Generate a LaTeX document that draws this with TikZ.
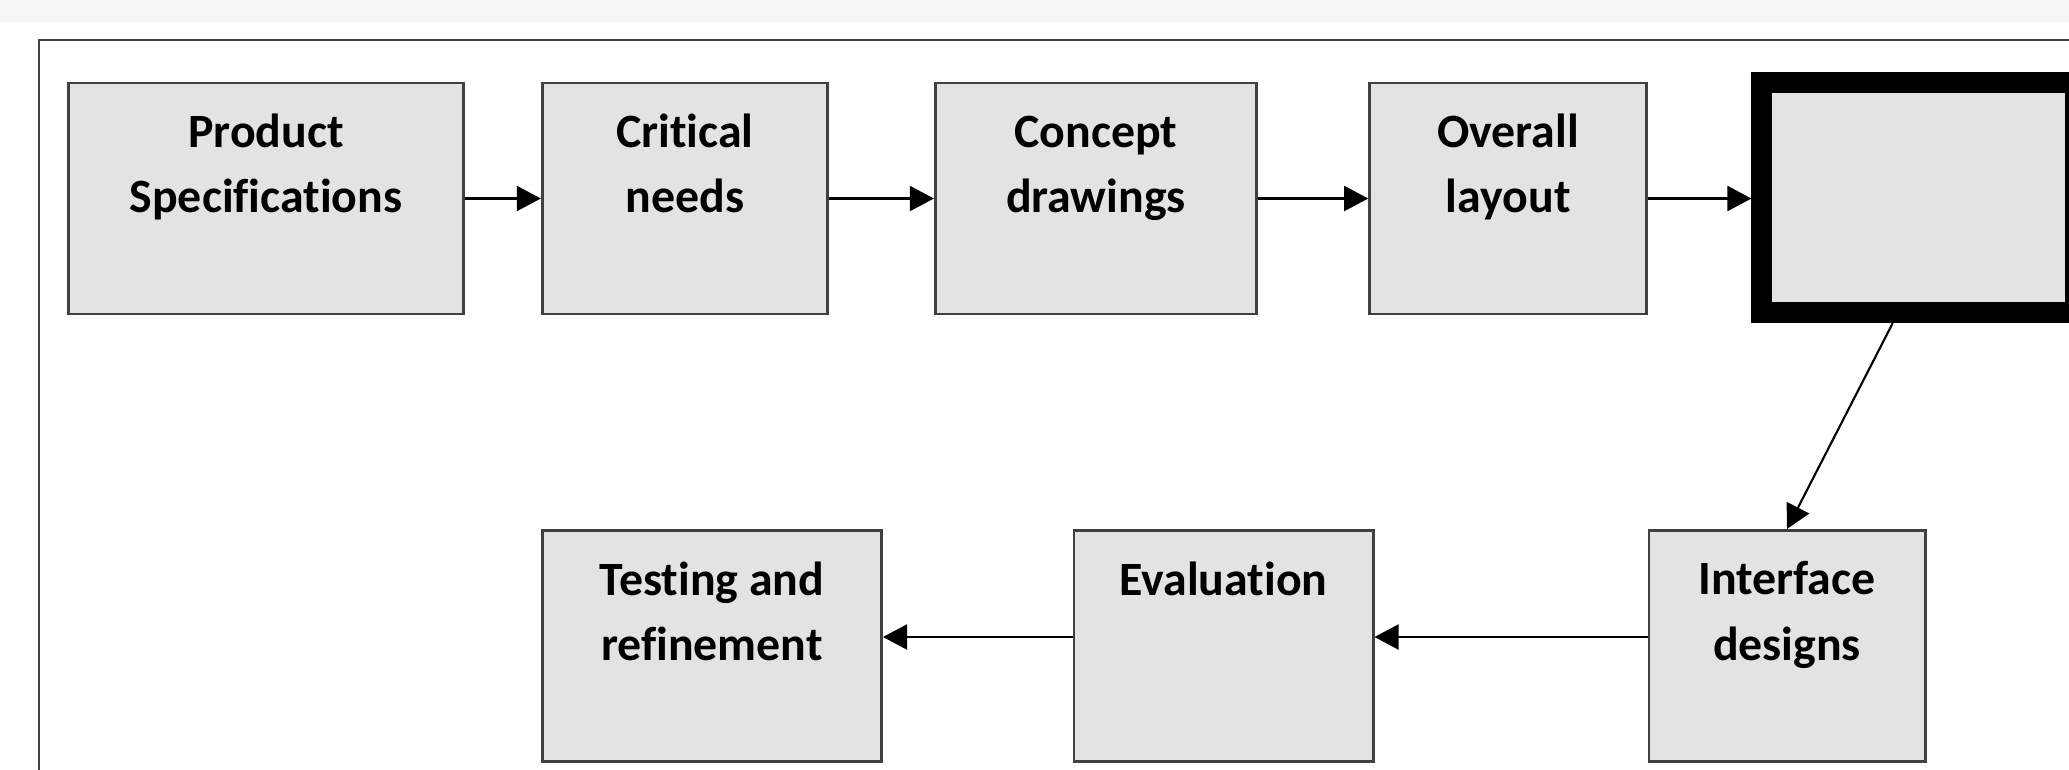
\documentclass[tikz,border=0pt]{standalone}
\usepackage{fontspec}
\setmainfont[Ligatures={NoCommon,NoRequired}]{Carlito}
\usetikzlibrary{arrows.meta}
\definecolor{boxfill}{HTML}{E3E3E3}
\definecolor{boxline}{HTML}{404040}
\definecolor{bandgray}{HTML}{F6F6F6}
\tikzset{
  stage/.style={draw=boxline, line width=0.8pt, fill=boxfill, minimum height=2.31cm, inner sep=0pt},
  stagetext/.style={anchor=north, align=center, inner sep=0pt, font=\fontsize{13.6pt}{18.5pt}\selectfont\bfseries},
  flow/.style={-{Triangle[length=0.24cm,width=0.25cm]}, line width=0.6pt}
}
\begin{document}
\begin{tikzpicture}[x=0.01cm, y=-0.01cm]
    \useasboundingbox (0,0) rectangle (2069,769);
    \clip (0,0) rectangle (2069,769);
    \fill[bandgray] (0,0) rectangle (2069,22);
    \draw[line width=0.6pt, boxline] (39,40) rectangle (2200,900);

    \node[stage, minimum width=3.94cm] (ps) at (266,198.5) {};
    \node[stage, minimum width=2.85cm] (cn) at (684.8,198.5) {};
    \node[stage, minimum width=3.21cm] (cd) at (1095.9,198.5) {};
    \node[stage, minimum width=2.77cm] (ol) at (1508.2,198.5) {};
    \node[stage, draw=black, line width=0.21cm, minimum width=3.135cm, minimum height=2.30cm] (blank) at (1918.75,197.5) {};
    \node[stage, minimum width=3.39cm] (tr) at (712,646) {};
    \node[stage, minimum width=2.99cm] (ev) at (1223.5,646) {};
    \node[stage, minimum width=2.76cm] (id) at (1787,646) {};

    \node[stagetext] (pst) at ([yshift=-0.32cm]ps.north) {Product\\Specifications};
    \node[stagetext] (cnt) at ([yshift=-0.32cm]cn.north) {Critical\\needs};
    \node[stagetext] (cdt) at ([yshift=-0.34cm]cd.north) {Concept\\drawings};
    \node[stagetext] (olt) at ([yshift=-0.32cm]ol.north) {Overall\\layout};
    \node[stagetext] (trt) at ([yshift=-0.32cm]tr.north) {Testing and\\refinement};
    \node[stagetext] (evt) at ([yshift=-0.32cm]ev.north) {Evaluation};
    \node[stagetext] (idt) at ([yshift=-0.32cm]id.north) {Interface\\designs};

    \draw[flow] (ps) -- (cn);
    \draw[flow] (cn) -- (cd);
    \draw[flow] (cd) -- (ol);
    \draw[flow] (ol.east) -- (blank.west |- ol.east);
    \draw[flow] ([xshift=-0.26cm]blank.south) -- (id.north);
    \draw[flow] ([yshift=0.09cm]id.west) -- ([yshift=0.09cm]ev.east);
    \draw[flow] ([yshift=0.09cm]ev.west) -- ([yshift=0.09cm]tr.east);
\end{tikzpicture}
\end{document}
